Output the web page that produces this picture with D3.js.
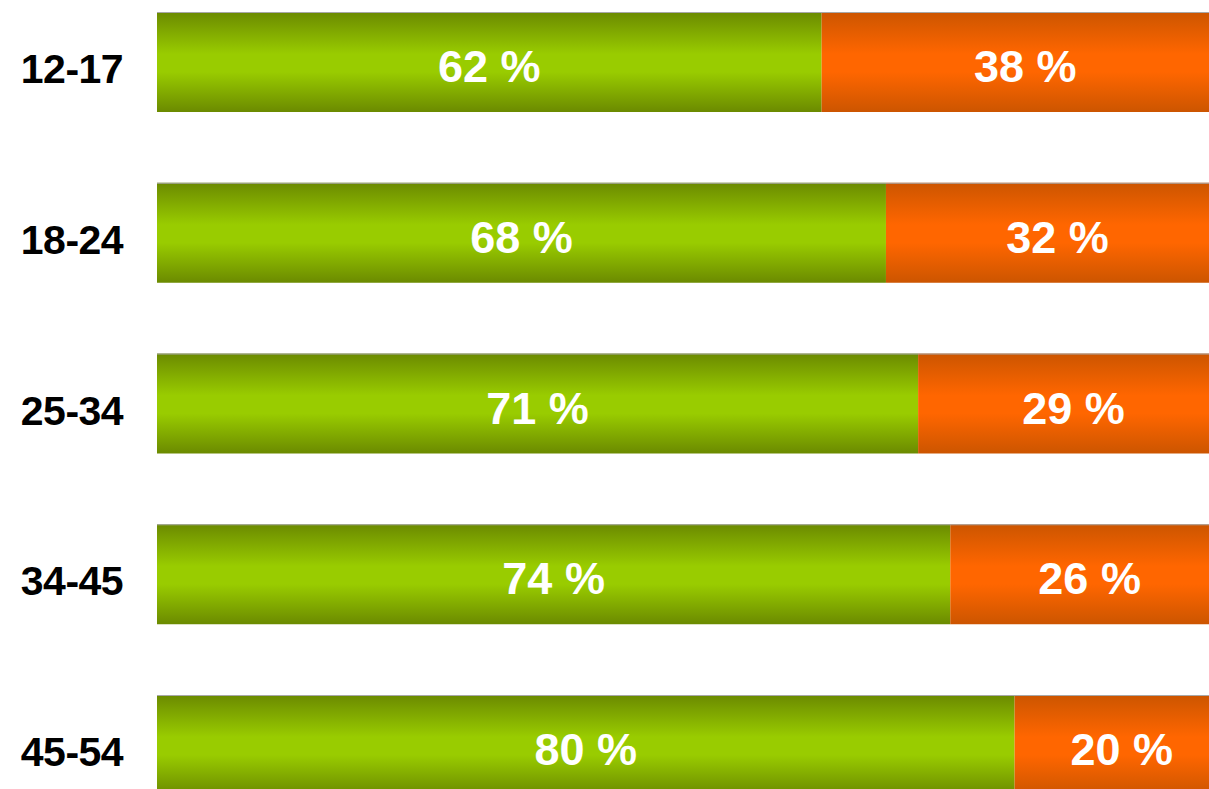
<!DOCTYPE html>
<meta charset="utf-8">
<head>
    <title>Age groups stacked bars</title>
</head>
<script src="https://d3js.org/d3.v7.min.js"></script>
<style>
    body { margin: 0; background: #fff; }
    .label {
        font-family: "Liberation Sans", Arial, sans-serif;
        font-weight: bold;
        font-size: 41px;
        letter-spacing: -0.5px;
        fill: #000;
        text-anchor: middle;
    }
    .value {
        font-family: "Liberation Sans", Arial, sans-serif;
        font-weight: bold;
        font-size: 45px;
        fill: #fff;
        text-anchor: middle;
    }
</style>
<div id="viz"></div>
<script>
// data
var ageGroups = ['12-17', '18-24', '25-34', '34-45', '45-54'];
var greenShare = [62, 68, 71, 74, 80];
var orangeShare = [38, 32, 29, 26, 20];

var width = 1209, height = 789;

var svg = d3.select('#viz').append('svg')
    .attr('width', width)
    .attr('height', height);

var defs = svg.append('defs');
function makeGradient(id, edge, mid) {
    var g = defs.append('linearGradient')
        .attr('id', id)
        .attr('x1', 0).attr('y1', 0)
        .attr('x2', 0).attr('y2', 1);
    g.append('stop').attr('offset', 0).attr('stop-color', edge);
    g.append('stop').attr('offset', 0.42).attr('stop-color', mid);
    g.append('stop').attr('offset', 0.6).attr('stop-color', mid);
    g.append('stop').attr('offset', 1).attr('stop-color', edge);
}
makeGradient('greenGrad', '#6b8a00', '#99cc00');
makeGradient('orangeGrad', '#cc5500', '#ff6600');

// 0..100 maps to a bar that runs past the right edge
var x = d3.scaleLinear()
    .domain([0, 100])
    .range([157, 1229]);

// bars 100px tall, one every 170.75px
var step = 170.75, barH = 100;
var y = d3.scaleBand()
    .domain(ageGroups)
    .range([12, 12 + 4 * step + barH])
    .paddingInner((step - barH) / step)
    .paddingOuter(0);

var rows = ageGroups.map(function(a, i) {
    return {age: a, g: greenShare[i], o: orangeShare[i]};
});

var row = svg.selectAll('.row')
    .data(rows)
    .enter()
    .append('g')
    .attr('class', 'row')
    .attr('transform', function(d) { return 'translate(0,' + y(d.age) + ')'; });

var bh = y.bandwidth();

row.append('rect')
    .attr('x', x(0))
    .attr('y', 0)
    .attr('width', function(d) { return x(d.g) - x(0); })
    .attr('height', bh)
    .attr('fill', 'url(#greenGrad)');

row.append('rect')
    .attr('x', function(d) { return x(d.g); })
    .attr('y', 0)
    .attr('width', function(d) { return x(d.g + d.o) - x(d.g); })
    .attr('height', bh)
    .attr('fill', 'url(#orangeGrad)');

// thin grey edge along the top of each bar
row.append('line')
    .attr('x1', x(0))
    .attr('x2', x(100))
    .attr('y1', 0.5)
    .attr('y2', 0.5)
    .attr('stroke', '#a8a8a8')
    .attr('stroke-width', 1);

row.append('text')
    .attr('class', 'label')
    .attr('x', 72)
    .attr('y', bh / 2 + 21)
    .text(function(d) { return d.age; });

row.append('text')
    .attr('class', 'value')
    .attr('x', function(d) { return (x(0) + x(d.g)) / 2; })
    .attr('y', bh / 2 + 20)
    .text(function(d) { return d.g + ' %'; });

row.append('text')
    .attr('class', 'value')
    .attr('x', function(d) { return (x(d.g) + x(d.g + d.o)) / 2; })
    .attr('y', bh / 2 + 20)
    .text(function(d) { return d.o + ' %'; });
</script>
